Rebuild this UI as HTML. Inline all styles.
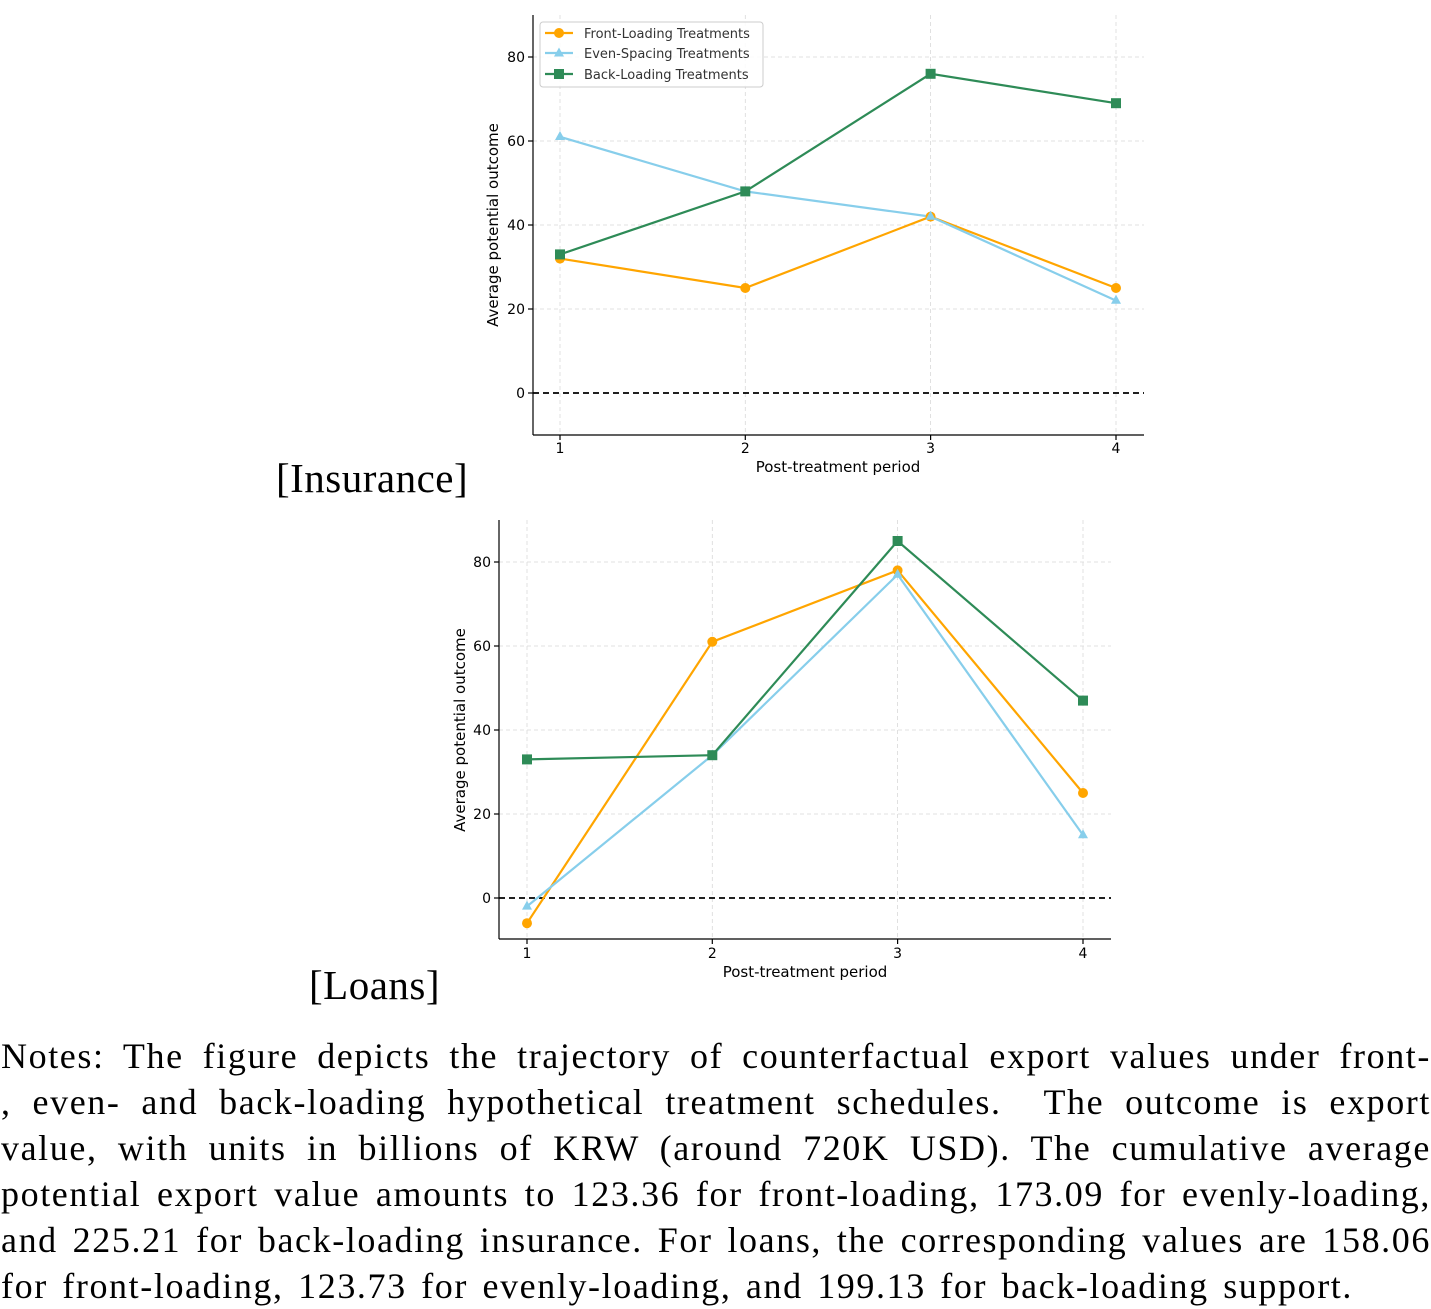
<!DOCTYPE html>
<html><head><meta charset="utf-8"><style>
html,body{margin:0;padding:0;background:#fff;}
body{width:1431px;height:1304px;position:relative;overflow:hidden;}
svg{position:absolute;left:0;top:0;}
.notes{position:absolute;left:1px;top:1033px;width:1430px;font-family:"Liberation Serif",serif;font-size:36px;letter-spacing:1.6px;line-height:46px;color:#000;}
.notes div{text-align:justify;text-align-last:justify;white-space:nowrap;height:46px;}
.cap{position:absolute;font-family:"Liberation Serif",serif;font-size:41px;color:#000;letter-spacing:0.5px;}
</style></head><body>
<svg width="1431" height="1010" viewBox="0 0 1431 1010" font-family="DejaVu Sans, sans-serif">
<g stroke="#d9d9d9" stroke-width="0.8" stroke-dasharray="4,3">
<line x1="560" y1="15" x2="560" y2="435"/><line x1="745.3" y1="15" x2="745.3" y2="435"/><line x1="930.6" y1="15" x2="930.6" y2="435"/><line x1="1116" y1="15" x2="1116" y2="435"/>
<line x1="533" y1="57" x2="1144" y2="57"/><line x1="533" y1="141" x2="1144" y2="141"/><line x1="533" y1="225" x2="1144" y2="225"/><line x1="533" y1="309" x2="1144" y2="309"/>
</g>
<line x1="533" y1="393" x2="1144" y2="393" stroke="#000" stroke-width="1.8" stroke-dasharray="6,4"/>
<g stroke="#000" stroke-width="1.2"><line x1="533" y1="15" x2="533" y2="435"/><line x1="533" y1="435" x2="1144" y2="435"/>
<line x1="528" y1="57" x2="533" y2="57"/><line x1="528" y1="141" x2="533" y2="141"/><line x1="528" y1="225" x2="533" y2="225"/><line x1="528" y1="309" x2="533" y2="309"/><line x1="528" y1="393" x2="533" y2="393"/>
<line x1="560" y1="435" x2="560" y2="440"/><line x1="745.3" y1="435" x2="745.3" y2="440"/><line x1="930.6" y1="435" x2="930.6" y2="440"/><line x1="1116" y1="435" x2="1116" y2="440"/></g>
<g font-size="14" text-anchor="end" fill="#000"><text x="525" y="62">80</text><text x="525" y="146">60</text><text x="525" y="230">40</text><text x="525" y="314">20</text><text x="525" y="398">0</text></g>
<g font-size="14" text-anchor="middle" fill="#000"><text x="560" y="453">1</text><text x="745.3" y="453">2</text><text x="930.6" y="453">3</text><text x="1116" y="453">4</text></g>
<text x="838" y="472" font-size="15" text-anchor="middle">Post-treatment period</text>
<text transform="translate(498,225) rotate(-90)" font-size="15" text-anchor="middle">Average potential outcome</text>
<polyline fill="none" stroke="#FFA500" stroke-width="2.2" points="560,258.6 745.3,288 930.6,216.6 1116,288"/>
<polyline fill="none" stroke="#87CEEB" stroke-width="2.2" points="560,136.8 745.3,191.4 930.6,216.6 1116,300.6"/>
<polyline fill="none" stroke="#2E8B57" stroke-width="2.2" points="560,254.4 745.3,191.4 930.6,73.8 1116,103.2"/>
<g fill="#FFA500"><circle cx="560" cy="258.6" r="5"/><circle cx="745.3" cy="288" r="5"/><circle cx="930.6" cy="216.6" r="5"/><circle cx="1116" cy="288" r="5"/></g>
<g fill="#87CEEB"><polygon points="560,131 565,140 555,140"/><polygon points="745.3,185.6 750.3,194.6 740.3,194.6"/><polygon points="930.6,210.8 935.6,219.8 925.6,219.8"/><polygon points="1116,294.8 1121,303.8 1111,303.8"/></g>
<g fill="#2E8B57"><rect x="555" y="249.4" width="10" height="10"/><rect x="740.3" y="186.4" width="10" height="10"/><rect x="925.6" y="68.8" width="10" height="10"/><rect x="1111" y="98.2" width="10" height="10"/></g>
<rect x="540" y="22" width="223" height="65" rx="3" fill="#fff" fill-opacity="0.85" stroke="#ccc" stroke-width="1"/>
<line x1="545" y1="33" x2="573" y2="33" stroke="#FFA500" stroke-width="2.2"/><circle cx="559" cy="33" r="5" fill="#FFA500"/>
<line x1="545" y1="53" x2="573" y2="53" stroke="#87CEEB" stroke-width="2.2"/><polygon points="559,47.5 564,56.5 554,56.5" fill="#87CEEB"/>
<line x1="545" y1="74" x2="573" y2="74" stroke="#2E8B57" stroke-width="2.2"/><rect x="554" y="69" width="10" height="10" fill="#2E8B57"/>
<g font-size="13" fill="#333"><text x="584" y="38">Front-Loading Treatments</text><text x="584" y="58">Even-Spacing Treatments</text><text x="584" y="79">Back-Loading Treatments</text></g>

<g stroke="#d9d9d9" stroke-width="0.8" stroke-dasharray="4,3">
<line x1="527" y1="520" x2="527" y2="939"/><line x1="712.3" y1="520" x2="712.3" y2="939"/><line x1="897.6" y1="520" x2="897.6" y2="939"/><line x1="1083" y1="520" x2="1083" y2="939"/>
<line x1="499" y1="562" x2="1111" y2="562"/><line x1="499" y1="646" x2="1111" y2="646"/><line x1="499" y1="730" x2="1111" y2="730"/><line x1="499" y1="814" x2="1111" y2="814"/>
</g>
<line x1="499" y1="898" x2="1111" y2="898" stroke="#000" stroke-width="1.8" stroke-dasharray="6,4"/>
<g stroke="#000" stroke-width="1.2"><line x1="499" y1="520" x2="499" y2="939"/><line x1="499" y1="939" x2="1111" y2="939"/>
<line x1="494" y1="562" x2="499" y2="562"/><line x1="494" y1="646" x2="499" y2="646"/><line x1="494" y1="730" x2="499" y2="730"/><line x1="494" y1="814" x2="499" y2="814"/><line x1="494" y1="898" x2="499" y2="898"/>
<line x1="527" y1="939" x2="527" y2="944"/><line x1="712.3" y1="939" x2="712.3" y2="944"/><line x1="897.6" y1="939" x2="897.6" y2="944"/><line x1="1083" y1="939" x2="1083" y2="944"/></g>
<g font-size="14" text-anchor="end" fill="#000"><text x="491" y="567">80</text><text x="491" y="651">60</text><text x="491" y="735">40</text><text x="491" y="819">20</text><text x="491" y="903">0</text></g>
<g font-size="14" text-anchor="middle" fill="#000"><text x="527" y="958">1</text><text x="712.3" y="958">2</text><text x="897.6" y="958">3</text><text x="1083" y="958">4</text></g>
<text x="805" y="977" font-size="15" text-anchor="middle">Post-treatment period</text>
<text transform="translate(465,730) rotate(-90)" font-size="15" text-anchor="middle">Average potential outcome</text>
<polyline fill="none" stroke="#FFA500" stroke-width="2.2" points="527,923.2 712.3,641.8 897.6,570.4 1083,793"/>
<polyline fill="none" stroke="#87CEEB" stroke-width="2.2" points="527,906.4 712.3,755.2 897.6,574.6 1083,835"/>
<polyline fill="none" stroke="#2E8B57" stroke-width="2.2" points="527,759.4 712.3,755.2 897.6,541 1083,700.6"/>
<g fill="#FFA500"><circle cx="527" cy="923.2" r="5"/><circle cx="712.3" cy="641.8" r="5"/><circle cx="897.6" cy="570.4" r="5"/><circle cx="1083" cy="793" r="5"/></g>
<g fill="#87CEEB"><polygon points="527,900.6 532,909.6 522,909.6"/><polygon points="712.3,749.4 717.3,758.4 707.3,758.4"/><polygon points="897.6,568.8 902.6,577.8 892.6,577.8"/><polygon points="1083,829.2 1088,838.2 1078,838.2"/></g>
<g fill="#2E8B57"><rect x="522" y="754.4" width="10" height="10"/><rect x="707.3" y="750.2" width="10" height="10"/><rect x="892.6" y="536" width="10" height="10"/><rect x="1078" y="695.6" width="10" height="10"/></g>
</svg>
<div class="cap" style="left:276px;top:454px;">[Insurance]</div>
<div class="cap" style="left:309px;top:961px;">[Loans]</div>
<div class="notes">
<div>Notes: The figure depicts the trajectory of counterfactual export values under front-</div>
<div>, even- and back-loading hypothetical treatment schedules. &nbsp;The outcome is export</div>
<div>value, with units in billions of KRW (around 720K USD). The cumulative average</div>
<div>potential export value amounts to 123.36 for front-loading, 173.09 for evenly-loading,</div>
<div>and 225.21 for back-loading insurance. For loans, the corresponding values are 158.06</div>
<div style="width:1352px;">for front-loading, 123.73 for evenly-loading, and 199.13 for back-loading support.</div>
</div>
</body></html>
